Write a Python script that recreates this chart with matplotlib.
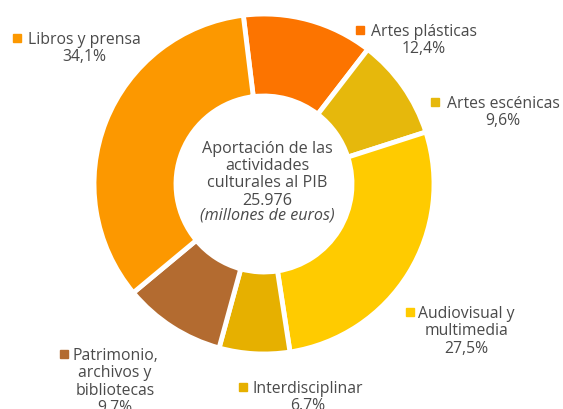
import matplotlib
matplotlib.use('Agg')
import matplotlib.pyplot as plt

# Data (clockwise from the top)
categories = ['Artes plásticas', 'Artes escénicas', 'Audiovisual y\nmultimedia',
              'Interdisciplinar', 'Patrimonio,\narchivos y\nbibliotecas', 'Libros y prensa']
shares = [12.4, 9.6, 27.5, 6.7, 9.7, 34.1]
decimal_sep = [',', ',', ',', '.', '.', ',']
colors = ['#fc7400', '#e6b80c', '#ffcb00', '#e6b000', '#b36b30', '#fc9800']
total_label = '25.976'

# Layout in pixel units (y measured from top)
W, H = 563, 410
cx, cy, r_out, r_in = 264, 185, 170, 88
# text centre x, first line centre y, marker x
label_x = [424, 503, 466, 308, 115, 84]
label_y = [31, 103, 313, 388, 355, 39]
marker_x = [360, 435, 410, 243, 64, 17]

text_color = '#4a4a4a'
plt.rcParams['font.family'] = ['Open Sans', 'DejaVu Sans']

fig = plt.figure(figsize=(W / 100, H / 100), dpi=100)
ax = fig.add_axes([0, 0, 1, 1])

ax.pie(shares, colors=colors, startangle=97, counterclock=False,
       center=(cx, H - cy), radius=r_out,
       wedgeprops=dict(width=r_out - r_in, edgecolor='white', linewidth=3.5))

# pie() resets the limits, so set them afterwards
ax.set_xlim(0, W)
ax.set_ylim(0, H)
ax.set_aspect('equal')
ax.axis('off')

fs = 11.3
for name, val, sep, tx, ty, mx, col in zip(categories, shares, decimal_sep,
                                           label_x, label_y, marker_x, colors):
    pct = f'{val:.1f}'.replace('.', sep) + '%'
    ax.text(tx, H - ty + 7, name + '\n' + pct, ha='center', va='top',
            multialignment='center', fontsize=fs, color=text_color,
            linespacing=1.12)
    ax.plot(mx, H - ty, marker='s', markersize=5.5, color=col,
            linestyle='none')

fc = 11.6
center_lines = ['Aportación de las', 'actividades', 'culturales al PIB', total_label]
ax.text(cx + 3, H - 141, '\n'.join(center_lines), ha='center', va='top',
        fontsize=fc, color=text_color, linespacing=1.1)
ax.text(cx + 3, H - 208, '(millones de euros)', ha='center', va='top',
        fontsize=fc, color=text_color, style='italic')

fig.savefig('out.png', dpi=100)
